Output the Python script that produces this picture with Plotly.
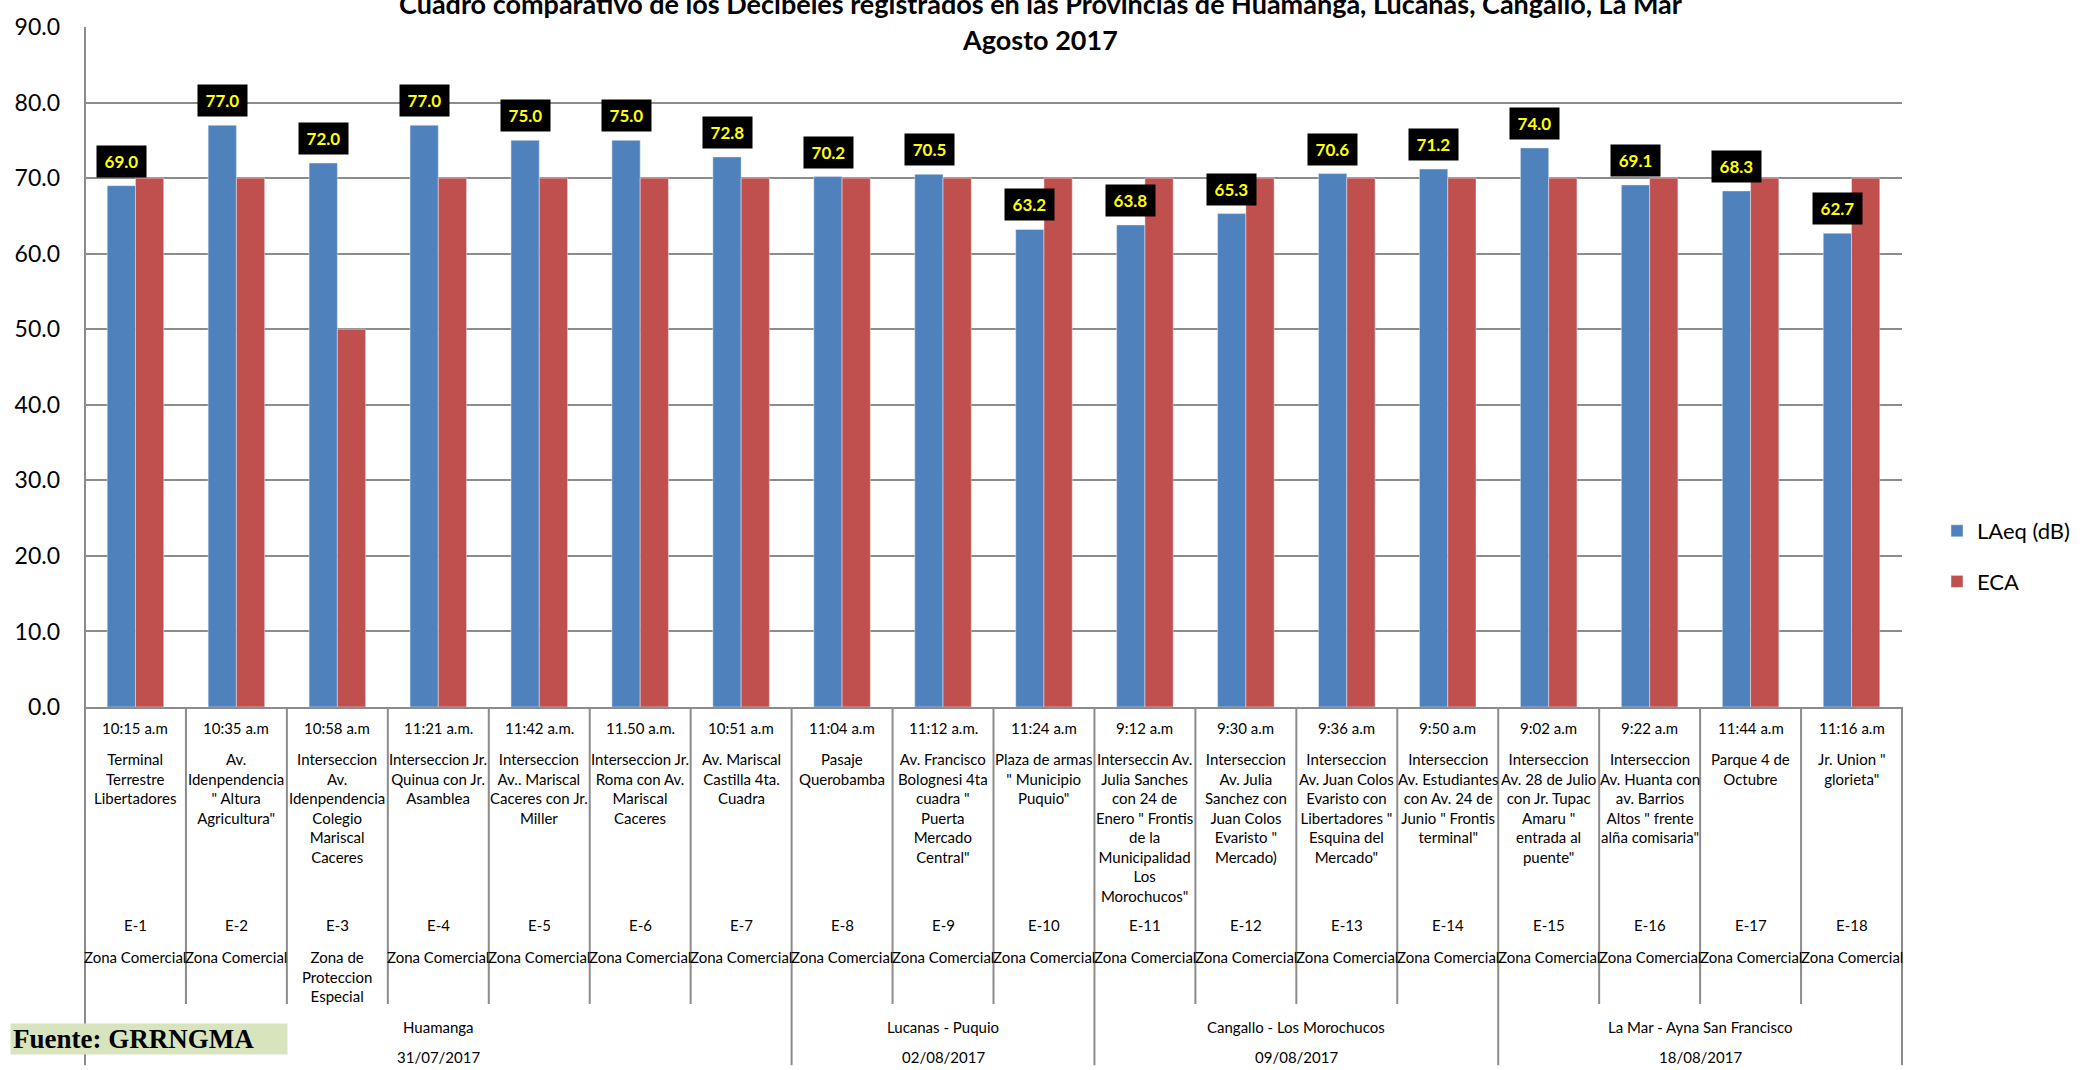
import plotly.graph_objects as go

# ---------------- data ----------------
estaciones = ["E-1", "E-2", "E-3", "E-4", "E-5", "E-6", "E-7", "E-8", "E-9",
              "E-10", "E-11", "E-12", "E-13", "E-14", "E-15", "E-16", "E-17", "E-18"]
horas = ["10:15 a.m", "10:35 a.m", "10:58 a.m", "11:21 a.m.", "11:42 a.m.", "11.50 a.m.",
         "10:51 a.m", "11:04 a.m", "11:12 a.m.", "11:24 a.m", "9:12 a.m", "9:30 a.m",
         "9:36 a.m", "9:50 a.m", "9:02 a.m", "9:22 a.m", "11:44 a.m", "11:16 a.m"]
lugares = [
    "Terminal<br>Terrestre<br>Libertadores",
    "Av.<br>Idenpendencia<br>\" Altura<br>Agricultura\"",
    "Interseccion<br>Av.<br>Idenpendencia<br>Colegio<br>Mariscal<br>Caceres",
    "Interseccion Jr.<br>Quinua con Jr.<br>Asamblea",
    "Interseccion<br>Av.. Mariscal<br>Caceres con Jr.<br>Miller",
    "Interseccion Jr.<br>Roma con Av.<br>Mariscal<br>Caceres",
    "Av. Mariscal<br>Castilla 4ta.<br>Cuadra",
    "Pasaje<br>Querobamba",
    "Av. Francisco<br>Bolognesi 4ta<br>cuadra \"<br>Puerta<br>Mercado<br>Central\"",
    "Plaza de armas<br>\" Municipio<br>Puquio\"",
    "Interseccin Av.<br>Julia Sanches<br>con 24 de<br>Enero \" Frontis<br>de la<br>Municipalidad<br>Los<br>Morochucos\"",
    "Interseccion<br>Av. Julia<br>Sanchez con<br>Juan Colos<br>Evaristo \"<br>Mercado)",
    "Interseccion<br>Av. Juan Colos<br>Evaristo con<br>Libertadores \"<br>Esquina del<br>Mercado\"",
    "Interseccion<br>Av. Estudiantes<br>con Av. 24 de<br>Junio \" Frontis<br>terminal\"",
    "Interseccion<br>Av. 28 de Julio<br>con Jr. Tupac<br>Amaru \"<br>entrada al<br>puente\"",
    "Interseccion<br>Av. Huanta con<br>av. Barrios<br>Altos \" frente<br>alña comisaria\"",
    "Parque 4 de<br>Octubre",
    "Jr. Union \"<br>glorieta\"",
]
zonas = ["Zona Comercial", "Zona Comercial", "Zona de<br>Proteccion<br>Especial"] + ["Zona Comercial"] * 15
laeq = [69.0, 77.0, 72.0, 77.0, 75.0, 75.0, 72.8, 70.2, 70.5, 63.2,
        63.8, 65.3, 70.6, 71.2, 74.0, 69.1, 68.3, 62.7]
eca = [70, 70, 50, 70, 70, 70, 70, 70, 70, 70, 70, 70, 70, 70, 70, 70, 70, 70]
grupos = ["Huamanga", "Lucanas - Puquio", "Cangallo - Los Morochucos", "La Mar - Ayna San Francisco"]
fechas = ["31/07/2017", "02/08/2017", "09/08/2017", "18/08/2017"]
grupo_n = [7, 3, 4, 4]
y_ticks = [0, 10, 20, 30, 40, 50, 60, 70, 80, 90]

titulo1 = "Cuadro comparativo de los Decibeles registrados en las Provincias de Huamanga, Lucanas, Cangallo, La Mar"
titulo2 = "Agosto 2017"
fuente = "Fuente: GRRNGMA"

# ---------------- layout geometry ----------------
W, H = 2100, 1070
ML, MR, MT, MB = 85, 198, 18, 363
PH = H - MT - MB
PW = W - ML - MR
N = len(estaciones)

def py(p):
    return (H - MB - p) / PH

def px(p):
    return (p - ML) / PW

FONT = "Lato"
GRAY = "#8C8C8C"

fig = go.Figure()
fig.add_trace(go.Bar(x=estaciones, y=laeq, name="LAeq (dB)", marker_color="#4F81BD",
                     legendgroup="a"))
fig.add_trace(go.Bar(x=estaciones, y=eca, name="ECA", marker_color="#C0504D",
                     legendgroup="b"))

ann = []
# data labels
for est, v in zip(estaciones, laeq):
    ann.append(dict(x=est, y=v, xref="x", yref="y", text=f"<b>{v:.1f}</b>", showarrow=False,
                    xanchor="center", yanchor="bottom", xshift=-14, yshift=8,
                    bgcolor="#000000", font=dict(family=FONT, size=17, color="#FFFF00"),
                    width=47, height=29, borderpad=1))

# category table
tfont = dict(family=FONT, size=15, color="#000000")
for est, h, l, z in zip(estaciones, horas, lugares, zonas):
    ann.append(dict(x=est, y=py(717.5), xref="x", yref="paper", text=h, showarrow=False,
                    yanchor="top", font=tfont))
    ann.append(dict(x=est, y=py(749), xref="x", yref="paper", text=l, showarrow=False,
                    yanchor="top", font=tfont))
    ann.append(dict(x=est, y=py(917), xref="x", yref="paper", text=est, showarrow=False,
                    yanchor="top", font=tfont))
    ann.append(dict(x=est, y=py(949), xref="x", yref="paper", text=z, showarrow=False,
                    yanchor="top", font=tfont))

start = 0
bounds = []
for g, f, n in zip(grupos, fechas, grupo_n):
    mid = start + (n - 1) / 2
    ann.append(dict(x=mid, y=py(1031.7), xref="x", yref="paper", text=g, showarrow=False,
                    yanchor="middle", font=tfont))
    ann.append(dict(x=mid, y=py(1061.7), xref="x", yref="paper", text=f, showarrow=False,
                    yanchor="middle", font=tfont))
    start += n
    bounds.append(start)

# titles (first line partly above the top edge, as in the reference)
ann.append(dict(x=px(1040), y=py(-6), xref="paper", yref="paper", text=f"<b>{titulo1}</b>",
                showarrow=False, yanchor="middle", font=dict(family=FONT, size=27, color="#000000")))
ann.append(dict(x=px(1040), y=py(31), xref="paper", yref="paper", text=f"<b>{titulo2}</b>",
                showarrow=False, yanchor="middle", font=dict(family=FONT, size=27, color="#000000")))

# source box
ann.append(dict(x=px(10), y=py(1027), xref="paper", yref="paper", text=f"<b>{fuente}</b>",
                showarrow=False, xanchor="left", yanchor="top", align="left",
                bgcolor="#D7E4BD", width=272, height=26, borderpad=2,
                font=dict(family="Liberation Serif", size=27, color="#000000")))

# divider lines
shapes = [dict(type="line", xref="paper", yref="paper", x0=0, x1=0, y0=1, y1=py(H),
               line=dict(color=GRAY, width=2))]
for k in range(1, N + 1):
    x = k / N
    y1 = py(H) if k in bounds else py(1008)
    shapes.append(dict(type="line", xref="paper", yref="paper", x0=x, x1=x, y0=0, y1=y1,
                       line=dict(color=GRAY, width=2)))

fig.update_layout(
    width=W, height=H,
    margin=dict(l=ML, r=MR, t=MT, b=MB),
    paper_bgcolor="white", plot_bgcolor="white",
    barmode="group", bargap=0.44, bargroupgap=0,
    annotations=ann, shapes=shapes,
    showlegend=True,
    legend=dict(x=1937 / W, xref="container", y=1 - 510 / H, yref="container",
                xanchor="left", yanchor="top", font=dict(family=FONT, size=22, color="#000000"),
                tracegroupgap=19, bgcolor="rgba(0,0,0,0)"),
    xaxis=dict(type="category", showticklabels=False, showgrid=False, ticks="",
               showline=True, linecolor=GRAY, linewidth=2, range=[-0.5, N - 0.5]),
    yaxis=dict(range=[0, 90], tickvals=y_ticks, tickformat=".1f", showgrid=True,
               gridcolor=GRAY, gridwidth=2, zeroline=False, showline=False, ticks="",
               ticklabelstandoff=24,
               tickfont=dict(family=FONT, size=23, color="#000000")),
    font=dict(family=FONT),
)

fig.write_html("out.html", config={"displayModeBar": False},
               post_script="document.body.style.margin='0';document.body.style.overflow='hidden';")
